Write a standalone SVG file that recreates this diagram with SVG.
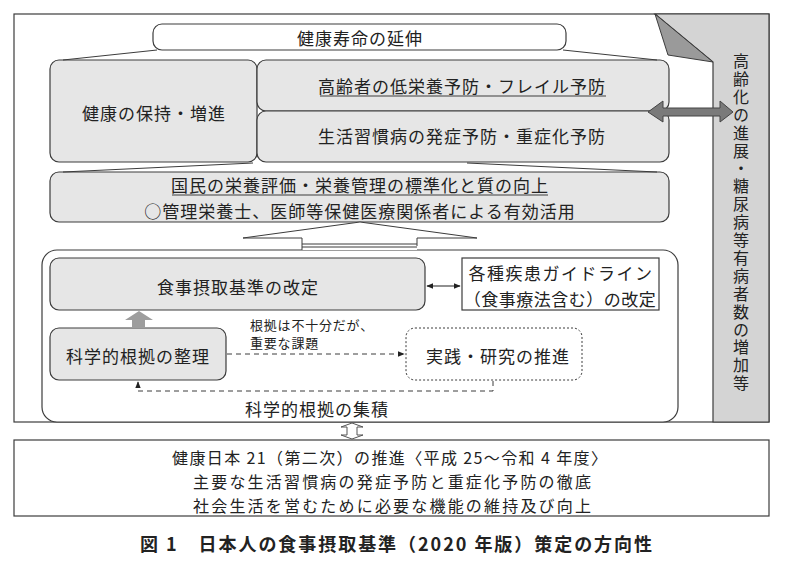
<svg xmlns="http://www.w3.org/2000/svg" width="791" height="567" viewBox="0 0 791 567">
<style>
.t{font-family:"Noto Sans CJK JP","Noto Sans CJK SC",sans-serif;font-size:17px;fill:#222;text-anchor:middle;dominant-baseline:central;letter-spacing:1px}
.s{font-size:13px;letter-spacing:0.8px;text-anchor:start}
.b{font-size:16px;letter-spacing:0}
.box{fill:#e6e6e6;stroke:#3c3c3c;stroke-width:1.2}
.wbox{fill:#fff;stroke:#3c3c3c;stroke-width:1.2}
.ln{fill:none;stroke:#3c3c3c;stroke-width:1}
.dash{fill:none;stroke:#3c3c3c;stroke-width:1;stroke-dasharray:5 4}
</style>
<defs>
<marker id="ah" viewBox="0 0 10 10" refX="9" refY="5" markerWidth="7" markerHeight="7" orient="auto-start-reverse" markerUnits="userSpaceOnUse">
<path d="M0,1 L10,5 L0,9 Z" fill="#222"/>
</marker>
</defs>
<rect width="791" height="567" fill="#fff"/>

<g id="frame">
<rect x="14" y="14" width="755" height="408" fill="#fff" stroke="#3c3c3c" stroke-width="1.2"/>
<polygon points="655,14 769,14 769,422 713,422 713,62" fill="#d4d4d4" stroke="#3c3c3c" stroke-width="1.2"/>
<polygon points="655,14 713,62 668,55" fill="#9a9a9a" stroke="#3c3c3c" stroke-width="1"/>
<text class="t" x="741" y="53" style="writing-mode:vertical-rl;text-anchor:start;dominant-baseline:central;font-size:16px;letter-spacing:1.9px">高齢化の進展・糖尿病等有病者数の増加等</text>
</g>

<g id="top">
<rect class="wbox" x="153" y="24" width="413" height="26" rx="9"/>
<text class="t" x="360" y="37">健康寿命の延伸</text>
</g>

<g id="hoji">
<rect class="box" x="50" y="60" width="207" height="102" rx="9"/>
<text class="t" x="154" y="112">健康の保持・増進</text>
</g>

<g id="frail">
<rect class="box" x="257" y="60" width="412" height="51" rx="9"/>
<text class="t" x="462" y="85">高齢者の低栄養予防・フレイル予防</text>
<line class="ln" x1="320" y1="96" x2="606" y2="96"/>
</g>

<g id="seikatsu">
<rect class="box" x="257" y="111" width="412" height="51" rx="9"/>
<text class="t" x="462" y="135">生活習慣病の発症予防・重症化予防</text>
</g>

<g id="kokumin">
<rect class="box" x="50" y="172" width="619" height="50" rx="9"/>
<text class="t" x="360" y="184">国民の栄養評価・栄養管理の標準化と質の向上</text>
<line class="ln" x1="172" y1="195" x2="548" y2="195"/>
<text class="t" x="360" y="210">○管理栄養士、医師等保健医療関係者による有効活用</text>
</g>

<g id="lower">
<rect class="wbox" x="42" y="250" width="636" height="172" rx="15"/>
<text class="t" x="317" y="408">科学的根拠の集積</text>
</g>

<g id="kaitei">
<rect class="box" x="50" y="258" width="375" height="52" rx="9"/>
<text class="t" x="238" y="286">食事摂取基準の改定</text>
</g>

<g id="guideline">
<rect class="wbox" x="462" y="258" width="197" height="52"/>
<text class="t" x="561" y="272" style="letter-spacing:1.5px">各種疾患ガイドライン</text>
<text class="t" x="560" y="298" style="letter-spacing:0.5px">（食事療法含む）の改定</text>
</g>

<g id="seiri">
<rect class="box" x="50" y="328" width="176" height="52" rx="9"/>
<text class="t" x="138" y="355">科学的根拠の整理</text>
</g>

<g id="label">
<text class="t s" x="250" y="324">根拠は不十分だが、</text>
<text class="t s" x="250" y="342">重要な課題</text>
</g>

<g id="jissen">
<rect x="406" y="328" width="176" height="52" rx="9" fill="#fff" stroke="#3c3c3c" stroke-width="1" stroke-dasharray="2 2"/>
<text class="t" x="498" y="355">実践・研究の推進</text>
</g>

<g id="kenkou21">
<rect x="14" y="440" width="755" height="76" fill="#fff" stroke="#3c3c3c" stroke-width="1.2"/>
<text class="t b" x="172" y="457" style="text-anchor:start" textLength="435" lengthAdjust="spacing">健康日本 21（第二次）の推進〈平成 25～令和 4 年度〉</text>
<text class="t b" x="193" y="481" style="text-anchor:start" textLength="398" lengthAdjust="spacing">主要な生活習慣病の発症予防と重症化予防の徹底</text>
<text class="t b" x="193" y="505" style="text-anchor:start" textLength="398" lengthAdjust="spacing">社会生活を営むために必要な機能の維持及び向上</text>
</g>

<g id="connectors">
<line class="ln" x1="157" y1="50" x2="63" y2="60"/>
<line class="ln" x1="563" y1="50" x2="657" y2="60"/>
<line class="ln" x1="253" y1="163" x2="63" y2="172"/>
<line class="ln" x1="467" y1="163" x2="657" y2="172"/>
<polygon points="302,250 302,238 243,238 360,222 477,238 417,238 417,250" fill="#fff" stroke="none"/>
<polyline class="ln" points="302,250 302,238 243,238 360,222 477,238 417,238 417,246"/>
<line class="ln" x1="302" y1="244" x2="417" y2="244" stroke="#777"/>
<line class="ln" x1="302" y1="247" x2="417" y2="247" stroke="#777"/>
<polygon points="648,112 663,101 663,108 720,108 720,101 733,112 720,122 720,116 663,116 663,122" fill="#7a7a7a" stroke="#444" stroke-width="1"/>
<line x1="427" y1="286" x2="460" y2="286" stroke="#222" stroke-width="1.2" marker-start="url(#ah)" marker-end="url(#ah)"/>
<polygon points="125,320 139,311 153,320 145,320 145,328 132,328 132,320" fill="#9d9d9d"/>
<line class="dash" x1="227" y1="354" x2="404" y2="354" marker-end="url(#ah)"/>
<polyline class="dash" points="493,381 493,391 138,391 138,382" marker-end="url(#ah)"/>
<polygon points="352,423 363,427 357,427 357,435 363,435 352,439 341,435 347,435 347,427 341,427" fill="#fff" stroke="#555" stroke-width="1"/>
</g>

<text class="t" x="140" y="543" style="text-anchor:start;font-weight:bold;font-size:18px;letter-spacing:0" textLength="512" lengthAdjust="spacing">図 1　日本人の食事摂取基準（2020 年版）策定の方向性</text>
</svg>
